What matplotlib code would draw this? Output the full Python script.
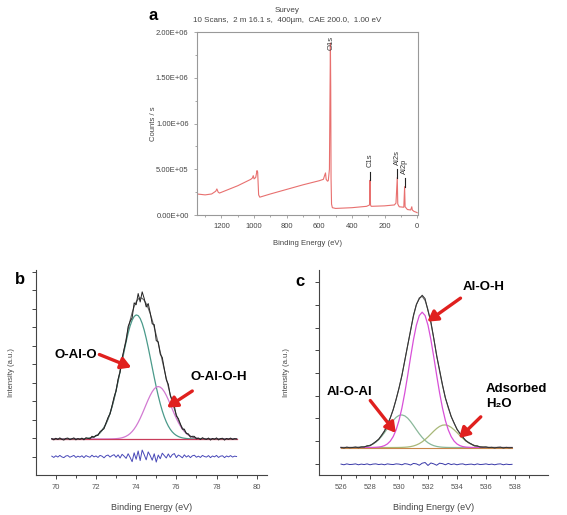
import numpy as np
import matplotlib
matplotlib.use('Agg')
import matplotlib.pyplot as plt

plt.rcParams['font.family'] = ['Liberation Sans', 'DejaVu Sans']

# --- survey spectrum (binding energy eV, counts/s) ---
SURVEY_EV = [1350, 1300, 1260, 1235, 1228, 1220, 1212, 1100, 1020, 1010, 1005, 1000, 990, 982, 978,
             972, 965, 900, 800, 700, 600, 575, 568, 562, 558, 550, 545, 538, 535, 532, 530, 528,
             525, 520, 500, 400, 310, 292, 289, 286, 282, 200, 140, 130, 122, 119, 110, 82, 77, 74,
             60, 40, 33, 30, 20, 5, 0]
SURVEY_CPS = [2.3e5, 2.2e5, 2.3e5, 2.6e5, 2.85e5, 2.5e5, 2.4e5, 3.2e5, 3.9e5, 4.05e5, 4.3e5, 3.95e5,
              4.1e5, 4.85e5, 4.7e5, 2.2e5, 1.95e5, 2.3e5, 2.8e5, 3.3e5, 3.75e5, 3.9e5, 4.3e5, 4.6e5,
              3.9e5, 3.7e5, 3.75e5, 5.0e5, 1.2e6, 1.88e6, 1.4e6, 4.0e5, 1.2e5, 8.0e4, 7.2e4, 8.0e4,
              9.5e4, 1.1e5, 3.8e5, 1.1e5, 9.5e4, 1.0e5, 1.1e5, 1.3e5, 4.1e5, 1.2e5, 9.0e4, 8.5e4,
              3.1e5, 9.0e4, 6.0e4, 5.5e4, 9.0e4, 5.5e4, 4.0e4, 3.0e4, 2.5e4]
PEAK_NAMES = ['C1s', 'Al2s', 'Al2p']
PEAK_EV = [289, 122, 77]
PEAK_CPS = [3.8e5, 4.1e5, 3.1e5]

# --- Al 2p region: peak centre, height, FWHM ---
AL_NAMES = ['O-Al-O', 'O-Al-O-H']
AL_CENTER = [74.02, 75.1]
AL_HEIGHT = [6.72, 2.84]
AL_FWHM = [1.75, 1.55]
AL_BASE = 1.95
AL_START, AL_STOP, AL_STEP = 69.8, 79.0, 0.1
AL_RESID = [0.02, -0.05, 0.04, -0.03, 0.06, -0.02, -0.06, 0.03, 0.05, -0.04,
            0.01, 0.06, -0.05, 0.02, -0.03, 0.04, -0.06, 0.05, 0.00, -0.04,
            0.07, -0.02, 0.03, -0.05, 0.06, 0.02, -0.07, 0.04, 0.08, -0.03,
            0.05, 0.10, -0.04, 0.09, -0.08, 0.12, 0.02, -0.10, 0.15, -0.05,
            -0.28, 0.20, -0.15, 0.30, -0.22, 0.35, 0.10, -0.18, 0.25, 0.05,
            -0.20, 0.15, -0.30, 0.08, -0.12, 0.18, 0.05, -0.08, 0.14, -0.05,
            0.10, 0.16, -0.06, 0.08, 0.02, -0.07, 0.09, -0.03, 0.05, -0.06,
            0.04, 0.07, -0.04, 0.02, -0.05, 0.06, 0.00, -0.03, 0.05, -0.06,
            0.03, -0.02, 0.06, -0.05, 0.02, 0.04, -0.06, 0.03, -0.02, 0.05,
            -0.03, 0.02, 0.00]

# --- O 1s region ---
O_NAMES = ['Al-O-Al', 'Al-O-H', 'Adsorbed\nH\u2082O']
O_CENTER = [530.17, 531.6, 533.15]
O_HEIGHT = [1.44, 5.97, 1.0]
O_FWHM = [2.2, 2.1, 2.2]
O_BASE = 1.21
O_START, O_STOP, O_STEP = 526.0, 537.8, 0.2
O_RESID = [0.01, -0.02, 0.02, -0.01, 0.00, 0.02, -0.02, 0.01, -0.01, 0.02,
           -0.02, 0.01, 0.02, -0.01, 0.01, -0.02, 0.02, 0.00, -0.01, 0.02,
           0.01, -0.02, 0.03, 0.01, -0.03, 0.04, 0.02, -0.04, 0.05, 0.08,
           -0.05, 0.06, 0.02, -0.04, 0.05, 0.03, -0.02, 0.04, -0.01, 0.02,
           -0.02, 0.01, 0.02, -0.02, 0.00, 0.01, -0.02, 0.02, -0.01, 0.00,
           0.02, -0.01, 0.01, -0.02, 0.01, 0.02, -0.02, 0.01, -0.01, 0.00]

RED = '#e0201e'
GREY = '#555555'


def gauss(x, c, h, w):
    return h * np.exp(-4 * np.log(2) * ((x - c) / w) ** 2)


def style_fit_axes(ax):
    for s in ['top', 'right']:
        ax.spines[s].set_visible(False)
    for s in ['left', 'bottom']:
        ax.spines[s].set_color('#444444')
        ax.spines[s].set_linewidth(0.8)
    ax.tick_params(which='both', colors='#444444', labelcolor=GREY, labelsize=5.5, width=0.7)
    ax.tick_params(which='major', length=3)
    ax.tick_params(which='minor', length=2)
    ax.tick_params(axis='y', labelleft=False)


def arrow(ax, tail, head):
    ax.annotate('', xy=head, xytext=tail,
                arrowprops=dict(arrowstyle='-|>,head_length=0.6,head_width=0.35',
                                color=RED, lw=2.4, mutation_scale=10))


fig = plt.figure(figsize=(5.67, 5.15), dpi=100)

# ---------- a: survey ----------
ax = fig.add_axes([0.3474, 0.5825, 0.3898, 0.3553])
ax.plot(SURVEY_EV, SURVEY_CPS, color='#e8706f', lw=0.8)
for name, ev, cps in zip(PEAK_NAMES, PEAK_EV, PEAK_CPS):
    ax.plot([ev, ev], [cps, cps + 0.9e5], color='#222222', lw=0.8)
    ax.text(ev, cps + 1.4e5, name, rotation=90, ha='center', va='bottom', fontsize=5.5, color='#333333')
ax.text(529, 1.8e6, 'O1s', rotation=90, ha='center', va='bottom', fontsize=5.5, color='#333333', clip_on=False)
ax.set_xlim(1350, -5)
ax.set_ylim(0, 2.0e6)
ax.set_xticks(np.arange(0, 1201, 200))
ax.set_xticks(np.arange(100, 1301, 200), minor=True)
ax.set_yticks(np.arange(0, 2.01e6, 5e5))
ax.set_yticks(np.arange(0, 2.01e6, 2.5e5), minor=True)
ax.set_yticklabels(['0.00E+00', '5.00E+05', '1.00E+06', '1.50E+06', '2.00E+06'])
for s in ax.spines.values():
    s.set_color('#999999')
    s.set_linewidth(0.8)
ax.tick_params(which='both', colors='#999999', labelcolor='#444444', labelsize=5.5, width=0.6)
ax.tick_params(which='major', length=2.5)
ax.tick_params(which='minor', length=1.5)
ax.set_ylabel('Counts / s', fontsize=5.5, color='#444444')
ax.yaxis.set_label_coords(-0.182, 0.5)
ax.set_xlabel('Binding Energy (eV)', fontsize=5.5, color='#444444')
ax.xaxis.set_label_coords(0.5, -0.137)
fig.text(287 / 567, 1 - 11 / 515, 'Survey', ha='center', va='center', fontsize=5.8, color='#444444')
fig.text(287 / 567, 1 - 21 / 515, '10 Scans,  2 m 16.1 s,  400\u00b5m,  CAE 200.0,  1.00 eV',
         ha='center', va='center', fontsize=5.8, color='#444444')
fig.text(153 / 567, 1 - 15 / 515, 'a', ha='center', va='center', fontsize=12, fontweight='bold')

# ---------- b: Al 2p ----------
ax = fig.add_axes([0.063, 0.0777, 0.4074, 0.398])
x = np.arange(len(AL_RESID)) * AL_STEP + AL_START
comps = [gauss(x, c, h, w) for c, h, w in zip(AL_CENTER, AL_HEIGHT, AL_FWHM)]
fit = AL_BASE + sum(comps)
data = fit + np.array(AL_RESID)
ax.plot(x, AL_BASE + comps[0], color='#4a9a8a', lw=0.9)
ax.plot(x, AL_BASE + comps[1], color='#d27ad2', lw=0.9)
ax.plot(x, np.full_like(x, AL_BASE), color='#c83c5a', lw=0.9)
ax.plot(x, fit, color='#666666', lw=0.8)
ax.plot(x, data, color='#222222', lw=0.7)
ax.plot(x, 1.0 + np.array(AL_RESID), color='#4848b8', lw=0.7)
ax.set_xlim(69.0, 80.5)
ax.set_ylim(0, 11.1)
ax.set_xticks(np.arange(70, 81, 2))
ax.set_xticks(np.arange(71, 80, 2), minor=True)
ax.set_yticks(np.arange(1, 12))
style_fit_axes(ax)
ax.set_ylabel('Intensity (a.u.)', fontsize=5.5, color='#444444')
ax.yaxis.set_label_coords(-0.09, 0.5)
ax.set_xlabel('Binding Energy (eV)', fontsize=6.5, color='#444444')
ax.xaxis.set_label_coords(0.5, -0.137)
ax.text(69.95, 6.49, AL_NAMES[0], fontsize=9.5, fontweight='bold', va='center', ha='left')
ax.text(76.7, 5.32, AL_NAMES[1], fontsize=9.5, fontweight='bold', va='center', ha='left')
arrow(ax, (72.04, 6.58), (73.89, 5.77))
arrow(ax, (76.91, 4.63), (75.42, 3.57))
fig.text(20 / 567, 1 - 280 / 515, 'b', ha='center', va='center', fontsize=12, fontweight='bold')

# ---------- c: O 1s ----------
ax = fig.add_axes([0.5631, 0.0777, 0.4039, 0.398])
x = np.arange(len(O_RESID)) * O_STEP + O_START
comps = [gauss(x, c, h, w) for c, h, w in zip(O_CENTER, O_HEIGHT, O_FWHM)]
fit = O_BASE + sum(comps)
data = fit + np.array(O_RESID)
ax.plot(x, O_BASE + comps[0], color='#8ab89a', lw=0.9)
ax.plot(x, O_BASE + comps[2], color='#a8b878', lw=0.9)
ax.plot(x, O_BASE + comps[1], color='#d850d8', lw=0.9)
ax.plot(x, np.full_like(x, O_BASE), color='#c8864a', lw=0.8)
ax.plot(x, fit, color='#666666', lw=0.8)
ax.plot(x, data, color='#333333', lw=0.7)
ax.plot(x, 0.47 + np.array(O_RESID), color='#3838a8', lw=0.7)
ax.set_xlim(524.5, 540.3)
ax.set_ylim(0, 9.04)
ax.set_xticks(np.arange(526, 539, 2))
ax.set_xticks(np.arange(527, 540, 2), minor=True)
ax.set_yticks(np.arange(0.5, 9.0, 1))
style_fit_axes(ax)
ax.set_ylabel('Intensity (a.u.)', fontsize=5.5, color='#444444')
ax.yaxis.set_label_coords(-0.128, 0.5)
ax.set_xlabel('Binding Energy (eV)', fontsize=6.5, color='#444444')
ax.xaxis.set_label_coords(0.5, -0.137)
ax.text(524.98, 3.68, O_NAMES[0], fontsize=9.5, fontweight='bold', va='center', ha='left')
ax.text(534.4, 8.31, O_NAMES[1], fontsize=9.5, fontweight='bold', va='center', ha='left')
ax.text(536.0, 3.45, O_NAMES[2], fontsize=9.5, fontweight='bold', va='center', ha='left',
        linespacing=1.35)
arrow(ax, (527.9, 3.38), (529.9, 1.76))
arrow(ax, (534.4, 7.87), (531.8, 6.69))
arrow(ax, (535.78, 2.65), (534.0, 1.54))
fig.text(300 / 567, 1 - 282 / 515, 'c', ha='center', va='center', fontsize=12, fontweight='bold')

fig.savefig('out.png', dpi=100, facecolor='white')
